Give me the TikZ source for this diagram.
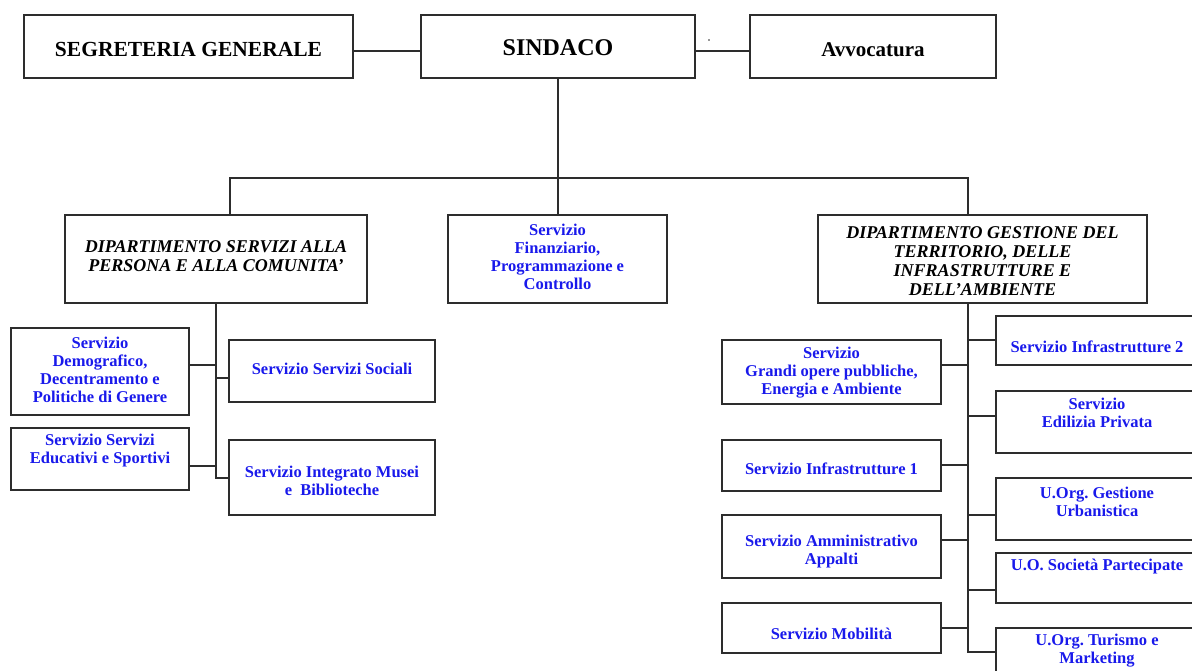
\documentclass[tikz,border=0pt]{standalone}
\usepackage{fontspec}
\setmainfont{Liberation Serif}
\usetikzlibrary{fit}
\definecolor{svc}{RGB}{25,25,235}
\definecolor{frame}{RGB}{45,45,45}
\tikzset{
  orgbox/.style={draw=frame, line width=1.4pt, inner sep=0pt},
  conn/.style={draw=frame, line width=1.3pt},
  svctext/.style={text=svc, font=\fontsize{16.5}{18}\selectfont\bfseries, align=center, inner sep=0pt},
  depttext/.style={text=black, font=\fontsize{18}{19}\selectfont\bfseries\itshape, align=center, inner sep=0pt},
  headtext/.style={text=black, font=\fontsize{21.5}{24}\selectfont\bfseries, align=center, inner sep=0pt}
}
\frenchspacing
\begin{document}
\begin{tikzpicture}[x=1pt,y=-1pt]
\useasboundingbox (0,0) rectangle (1192,671);
\clip (0,0) rectangle (1192,671);
% top row
\node[orgbox, fit={(24,15) (353,78)}] (seg) {};
\node[headtext] (segt) at (seg.center |- 0,49) {SEGRETERIA GENERALE};
\node[orgbox, fit={(421,15) (695,78)}] (sind) {};
\node[headtext, font=\fontsize{24}{26}\selectfont\bfseries] (sindt) at (sind.center |- 0,48) {SINDACO};
\node[orgbox, fit={(750,15) (996,78)}] (avv) {};
\node[headtext, font=\fontsize{21}{24}\selectfont\bfseries] (avvt) at (avv.center |- 0,50) {Avvocatura};
\fill[frame] (709,40) circle (0.8pt);
% second row
\node[orgbox, fit={(65,215) (367,303)}] (deptL) {};
\node[depttext] (deptLt) at (deptL.center |- 0,256) {DIPARTIMENTO SERVIZI ALLA\\PERSONA E ALLA COMUNITA’};
\node[orgbox, fit={(448,215) (667,303)}] (fin) {};
\node[svctext] (fint) at (fin.center |- 0,257) {Servizio\\Finanziario,\\Programmazione e\\Controllo};
\node[orgbox, fit={(818,215) (1147,303)}] (deptR) {};
\node[depttext] (deptRt) at (deptR.center |- 0,261) {DIPARTIMENTO GESTIONE DEL\\TERRITORIO, DELLE\\INFRASTRUTTURE E\\DELL’AMBIENTE};
% left department services
\node[orgbox, fit={(11,328) (189,415)}] (demog) {};
\node[svctext] (demogt) at (demog.center |- 0,370) {Servizio\\Demografico,\\Decentramento e\\Politiche di Genere};
\node[orgbox, fit={(11,428) (189,490)}] (educ) {};
\node[svctext] (educt) at (educ.center |- 0,451) {Servizio Servizi\\Educativi e Sportivi};
\node[orgbox, fit={(229,340) (435,402)}] (soc) {};
\node[svctext] (soct) at (soc.center |- 0,369) {Servizio Servizi Sociali};
\node[orgbox, fit={(229,440) (435,515)}] (musei) {};
\node[svctext] (museit) at (musei.center |- 0,481) {Servizio Integrato Musei\\e\ \ Biblioteche};
% right department services (left column)
\node[orgbox, fit={(722,340) (941,404)}] (grandi) {};
\node[svctext] (grandit) at (grandi.center |- 0,373) {Servizio\\Grandi opere pubbliche,\\Energia e Ambiente};
\node[orgbox, fit={(722,440) (941,491)}] (infra1) {};
\node[svctext] (infra1t) at (infra1.center |- 0,469) {Servizio Infrastrutture 1};
\node[orgbox, fit={(722,515) (941,578)}] (ammin) {};
\node[svctext] (ammint) at (ammin.center |- 0,552) {Servizio Amministrativo\\Appalti};
\node[orgbox, fit={(722,603) (941,653)}] (mob) {};
\node[svctext] (mobt) at (mob.center |- 0,634) {Servizio Mobilità};
% right department services (right column)
\node[orgbox, fit={(996,316) (1200,365)}] (infra2) {};
\node[svctext] (infra2t) at (1097,347) {Servizio Infrastrutture 2};
\node[orgbox, fit={(996,391) (1200,453)}] (edil) {};
\node[svctext] (edilt) at (1097,413) {Servizio\\Edilizia Privata};
\node[orgbox, fit={(996,478) (1200,540)}] (gest) {};
\node[svctext] (gestt) at (1097,502) {U.Org. Gestione\\Urbanistica};
\node[orgbox, fit={(996,553) (1200,603)}] (soci) {};
\node[svctext] (socit) at (1097,567) {U.O. Società Partecipate};
\node[orgbox, fit={(996,628) (1200,700)}] (tur) {};
\node[svctext] (turt) at (1097,651) {U.Org. Turismo e\\Marketing};
% connectors top
\draw[conn] (seg.east |- 0,51) -- (sind.west |- 0,51);
\draw[conn] (sind.east |- 0,51) -- (avv.west |- 0,51);
\coordinate (busL) at (230,178);
\coordinate (busM) at (558,178);
\coordinate (busR) at (968,178);
\draw[conn] (sind.south -| busM) -- (busM);
\draw[conn] (deptL.north -| busL) -- (busL) -- (busR) -- (deptR.north -| busR);
\draw[conn] (fin.north -| busM) -- (busM);
% left trunk
\coordinate (trunkL) at (216,478);
\draw[conn] (deptL.south -| trunkL) -- (trunkL) -- (musei.west |- trunkL);
\draw[conn] (demog.east |- 0,365) -- (trunkL |- 0,365);
\draw[conn] (educ.east |- 0,466) -- (trunkL |- 0,466);
\draw[conn] (soc.west |- 0,378) -- (trunkL |- 0,378);
% right trunk
\coordinate (trunkR) at (968,652);
\draw[conn] (deptR.south -| trunkR) -- (trunkR) -- (tur.west |- trunkR);
\draw[conn] (infra2.west |- 0,340) -- (trunkR |- 0,340);
\draw[conn] (grandi.east |- 0,365) -- (trunkR |- 0,365);
\draw[conn] (edil.west |- 0,416) -- (trunkR |- 0,416);
\draw[conn] (infra1.east |- 0,465) -- (trunkR |- 0,465);
\draw[conn] (gest.west |- 0,515) -- (trunkR |- 0,515);
\draw[conn] (ammin.east |- 0,540) -- (trunkR |- 0,540);
\draw[conn] (soci.west |- 0,590) -- (trunkR |- 0,590);
\draw[conn] (mob.east |- 0,628) -- (trunkR |- 0,628);
\end{tikzpicture}
\end{document}
